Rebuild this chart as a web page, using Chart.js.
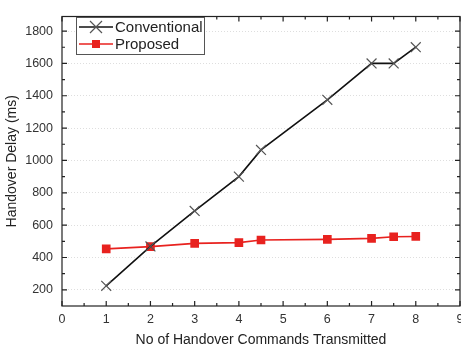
<!DOCTYPE html>
<html>
<head>
<title>Handover Delay</title>
<script src="https://cdn.jsdelivr.net/npm/chart.js@4.4.1/dist/chart.umd.min.js"></script>
<style>
	html, body { margin: 0; padding: 0; background: #fff; overflow: hidden; }
</style>
</head>
<body>
<canvas id="myChart" width="470" height="353"></canvas>
<script>
	// data
	var convX = [1, 2, 3, 4, 4.5, 6, 7, 7.5, 8];
	var convY = [225, 468, 688, 900, 1065, 1375, 1600, 1600, 1700];
	var propX = [1, 2, 3, 4, 4.5, 6, 7, 7.5, 8];
	var propY = [453, 467, 487, 492, 508, 512, 518, 528, 530];
	var xTicks = [0, 1, 2, 3, 4, 5, 6, 7, 8, 9];
	var yTicks = [200, 400, 600, 800, 1000, 1200, 1400, 1600, 1800];

	var FONT = '"Liberation Sans", Arial, sans-serif';

	function toPoints(xs, ys) {
		return xs.map(function (x, i) { return { x: x, y: ys[i] }; });
	}

	// frame + inward ticks on all four sides (major and minor), and the legend box
	var frame = {
		id: 'frame',
		afterDraw: function (chart) {
			var ctx = chart.ctx, a = chart.chartArea;
			var sx = chart.scales.x, sy = chart.scales.y;
			ctx.save();
			ctx.strokeStyle = '#222';
			ctx.lineWidth = 1.2;
			ctx.strokeRect(a.left, a.top, a.right - a.left, a.bottom - a.top);
			ctx.beginPath();
			for (var v = 0; v <= 9; v += 0.5) {
				var px = sx.getPixelForValue(v);
				var len = (v % 1 === 0) ? 5 : 3;
				ctx.moveTo(px, a.bottom); ctx.lineTo(px, a.bottom - len);
				ctx.moveTo(px, a.top); ctx.lineTo(px, a.top + len);
			}
			for (var w = 200; w <= 1800; w += 100) {
				var py = sy.getPixelForValue(w);
				var l2 = (w % 200 === 0) ? 5 : 3;
				ctx.moveTo(a.left, py); ctx.lineTo(a.left + l2, py);
				ctx.moveTo(a.right, py); ctx.lineTo(a.right - l2, py);
			}
			ctx.stroke();

			// legend box
			var bx = 76, by = 17, bw = 128, bh = 37;
			ctx.fillStyle = '#fff';
			ctx.fillRect(bx, by, bw, bh);
			ctx.strokeStyle = '#555';
			ctx.lineWidth = 1;
			ctx.strokeRect(bx + 0.5, by + 0.5, bw, bh);
			var items = [
				{ label: 'Conventional', color: '#111', y: by + 10, mark: 'x' },
				{ label: 'Proposed', color: '#e8221f', y: by + 27, mark: 'sq' }
			];
			items.forEach(function (it) {
				ctx.strokeStyle = it.color;
				ctx.lineWidth = 1.5;
				ctx.beginPath();
				ctx.moveTo(bx + 3, it.y); ctx.lineTo(bx + 37, it.y);
				ctx.stroke();
				var cx = bx + 20;
				if (it.mark === 'x') {
					ctx.strokeStyle = '#555';
					ctx.lineWidth = 1.2;
					ctx.beginPath();
					ctx.moveTo(cx - 6, it.y - 6); ctx.lineTo(cx + 6, it.y + 6);
					ctx.moveTo(cx - 6, it.y + 6); ctx.lineTo(cx + 6, it.y - 6);
					ctx.stroke();
				} else {
					ctx.fillStyle = it.color;
					ctx.fillRect(cx - 4, it.y - 4, 8, 8);
				}
				ctx.fillStyle = '#222';
				ctx.font = '15px ' + FONT;
				ctx.textBaseline = 'middle';
				ctx.fillText(it.label, bx + 39, it.y + 1);
			});
			ctx.restore();
		}
	};

	new Chart(document.getElementById('myChart'), {
		type: 'line',
		data: {
			datasets: [{
				label: 'Conventional',
				data: toPoints(convX, convY),
				borderColor: '#111',
				borderWidth: 1.6,
				pointStyle: 'crossRot',
				pointRadius: 7,
				pointBorderColor: '#555',
				pointBorderWidth: 1.2,
				tension: 0
			}, {
				label: 'Proposed',
				data: toPoints(propX, propY),
				borderColor: '#e8221f',
				backgroundColor: '#e8221f',
				borderWidth: 1.6,
				pointStyle: 'rect',
				pointRadius: 5,
				pointBorderColor: '#e8221f',
				pointBackgroundColor: '#e8221f',
				tension: 0
			}]
		},
		options: {
			responsive: false,
			animation: false,
			devicePixelRatio: 1,
			layout: { padding: { top: 4, right: 10, left: 0, bottom: 0 } },
			plugins: { legend: { display: false }, tooltip: { enabled: false } },
			scales: {
				x: {
					type: 'linear',
					min: 0, max: 9,
					afterBuildTicks: function (s) { s.ticks = xTicks.map(function (v) { return { value: v }; }); },
					afterFit: function (s) { s.height = 47; },
					grid: { display: false, drawTicks: false },
					border: { display: false },
					ticks: { color: '#333', font: { family: FONT, size: 12.5 }, padding: 6, maxRotation: 0,
						callback: function (v) { return String(v); } },
					title: { display: true, text: 'No of Handover Commands Transmitted', color: '#222', font: { family: FONT, size: 14 }, padding: { top: 4, bottom: 4 } }
				},
				y: {
					min: 100, max: 1890,
					afterBuildTicks: function (s) { s.ticks = yTicks.map(function (v) { return { value: v }; }); },
					afterFit: function (s) { s.width = 62; },
					grid: { drawTicks: false, color: 'rgba(0,0,0,0.13)', lineWidth: 1 },
					border: { display: false, dash: [1, 2] },
					ticks: { color: '#333', font: { family: FONT, size: 12.5 }, padding: 9,
						callback: function (v) { return String(v); } },
					title: { display: true, text: 'Handover Delay (ms)', color: '#222', font: { family: FONT, size: 14 }, padding: { top: 4, bottom: 0 } }
				}
			}
		},
		plugins: [frame]
	});
</script>
</body>
</html>
